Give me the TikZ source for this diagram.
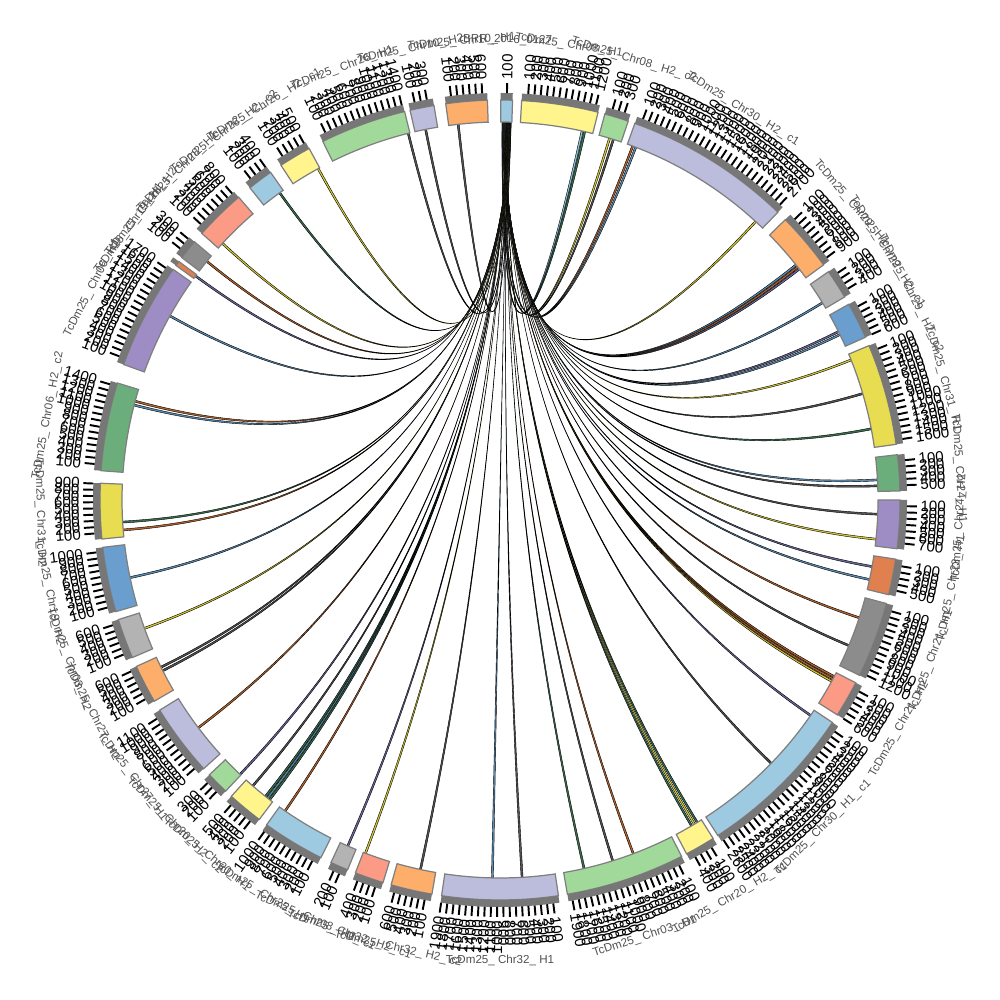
\documentclass[tikz,border=0pt]{standalone}
\usepackage{fontspec}
\setmainfont{Liberation Sans}
\definecolor{segblue}{HTML}{9ECAE1}
\definecolor{segyellow}{HTML}{FFF58C}
\definecolor{seggreen}{HTML}{A1D99B}
\definecolor{seglav}{HTML}{BCBDDC}
\definecolor{segorange}{HTML}{FDAE6B}
\definecolor{seggray}{HTML}{B3B3B3}
\definecolor{segsteel}{HTML}{6A9ECF}
\definecolor{segmustard}{HTML}{E8DC50}
\definecolor{segjade}{HTML}{6BAE7B}
\definecolor{segpurple}{HTML}{9E8DC4}
\definecolor{segrust}{HTML}{E0804E}
\definecolor{segdark}{HTML}{8C8C8C}
\definecolor{segsalmon}{HTML}{FB9A85}
\definecolor{bandgray}{HTML}{777777}
\definecolor{edgegray}{HTML}{7F7F7F}
\definecolor{namegray}{HTML}{505050}
\definecolor{lkO}{HTML}{D8CC3C}
\definecolor{lkB}{HTML}{B5652E}
\definecolor{lkS}{HTML}{5E8FB5}
\definecolor{lkG}{HTML}{3B7050}
\definecolor{lkP}{HTML}{6A6A9A}
\definecolor{lkK}{HTML}{555555}
\definecolor{lkC}{HTML}{8CC4E0}
\def\ringpart[#1](#2:#3:#4:#5){\path[#1] (#2:#4) arc[start angle=#2, end angle=#3, radius=#4] -- (#3:#5) arc[start angle=#3, end angle=#2, radius=#5] -- cycle;}
\tikzset{
  segbox/.style={draw=edgegray, line width=0.35pt},
  tickmark/.style={line width=0.55pt, black},
  ticklab/.style={inner sep=0pt, font=\fontsize{4.3}{4.3}\selectfont},
  chrlab/.style={inner sep=0pt, text=namegray, font=\fontsize{3.3}{3.3}\selectfont},
  linkline/.style={draw=black, line width=0.12pt},
}
\begin{document}
\begin{tikzpicture}
			%%%%% START %%%%%
			\useasboundingbox (-5,-5) rectangle (5,5);
			
			% links from the top sector
			\foreach \t/\c [count=\i] in {77.6/lkC, 77.2/lkG, 73.3/lkO, 72.7/lkK, 69.6/lkB, 69.1/lkS, 47.6/lkO,
				38.6/lkS, 38.2/lkB, 37.8/lkP, 31.6/lkS, 26.6/lkP, 26.1/lkS, 21.9/lkO, 16.5/lkK, 11.0/lkG,
				3.2/lkS, 2.3/lkK, -2.0/lkK, -5.8/lkO, -10.0/lkP, -12.0/lkS, -18.0/lkB, -22.5/lkK,
				-27.7/lkB, -28.1/lkB, -28.5/lkO, -34.6/lkP, -44.0/lkK, -58.4/lkG, -58.9/lkO, -59.4/lkG,
				-69.2/lkB, -72.5/lkK, -77.0/lkG, -86.5/lkK, -91.0/lkS, -102.0/lkK, -110.7/lkO, -113.6/lkP,
				-124.5/lkB, -127.4/lkG, -127.8/lkS, -128.2/lkG, -130.7/lkK, -133.3/lkP, -142.8/lkB,
				-153.0/lkK, -153.6/lkK, -160.0/lkO, -168.0/lkS, -175.3/lkB, -176.5/lkG, -194.4/lkS,
				-195.0/lkB, -209.0/lkS, -216.2/lkP, -219.0/lkB, -222.6/lkO, -234.2/lkG, -241.1/lkO,
				-255.8/lkK, -258.5/lkK, -263.5/lkK}{
				\pgfmathsetmacro\src{89.72-0.022*\i}
				\pgfmathsetmacro\srcb{\src-0.012}
				\pgfmathsetmacro\tb{\t-0.3}
				\draw[linkline, fill=\c] (\src:3.78) .. controls (\src:1.26) and (\t:1.26) .. (\t:3.78)
					arc[start angle=\t, end angle=\tb, radius=3.78]
					.. controls (\tb:1.26) and (\srcb:1.26) .. (\srcb:3.78) -- cycle;
			}
			
			% sectors, ticks and labels
			\foreach \s/\e/\c/\nm [count=\j] in {
				89.9/88.2/segblue/BRR\_2016\_0127,
				86.9/75.8/segyellow/TcDm25\_ Chr08\_ H1,
				74.8/71.3/seggreen/TcDm25\_ Chr08\_ H2\_ c2,
				70.3/46.0/seglav/TcDm25\_ Chr30\_ H2\_ c1,
				44.5/36.0/segorange/TcDm25\_ Chr29\_ H1,
				34.8/30.5/seggray/TcDm25\_ Chr29\_ H2\_ c1,
				29.3/24.0/segsteel/TcDm25\_ Chr29\_ H2\_ c2,
				22.7/8.0/segmustard/TcDm25\_ Chr31\_ H1,
				6.5/1.3/segjade/TcDm25\_ Chr24\_ H1,
				0.0/-7.0/segpurple/TcDm25\_ Chr24\_ H2,
				-8.5/-13.7/segrust/TcDm25\_ Chr23\_ H1,
				-15.0/-26.0/segdark/TcDm25\_ Chr21\_ H1,
				-27.2/-32.5/segsalmon/TcDm25\_ Chr21\_ H2,
				-33.8/-57.0/segblue/TcDm25\_ Chr30\_ H1\_ c1,
				-57.8/-62.2/segyellow/TcDm25\_ Chr20\_ H2\_ c1,
				-63.0/-80.3/seggreen/TcDm25\_ Chr03\_ H1,
				-81.6/-98.4/seglav/TcDm25\_ Chr32\_ H1,
				-99.8/-105.8/segorange/TcDm25\_ Chr32\_ H2\_ c2,
				-107.0/-111.2/segsalmon/TcDm25\_ Chr32\_ H2\_ c1,
				-112.4/-115.0/seggray/TcDm25\_ Chr08\_ H2\_ c1,
				-116.6/-125.7/segblue/TcDm25\_ Chr25\_ H1,
				-127.0/-132.2/segyellow/TcDm25\_ Chr20\_ H1,
				-133.3/-136.6/seggreen/TcDm25\_ Chr20\_ H2\_ c2,
				-137.8/-148.3/seglav/TcDm25\_ Chr27\_ H1,
				-149.8/-155.4/segorange/TcDm25\_ Chr27\_ H2,
				-156.8/-162.6/seggray/TcDm25\_ Chr03\_ H2,
				-163.8/-173.2/segsteel/TcDm25\_ Chr19\_ H2,
				-174.4/-182.4/segmustard/TcDm25\_ Chr31\_ H2,
				-184.2/-197.0/segjade/TcDm25\_ Chr06\_ H2\_ c2,
				-199.8/-215.2/segpurple/TcDm25\_ Chr06\_ H1,
				-215.9/-216.6/segrust/TcDm25\_ Chr19\_ H1,
				-217.3/-220.2/segdark/TcDm25\_ Chr28\_ H2,
				-221.8/-229.2/segsalmon/TcDm25\_ Chr28\_ H1,
				-231.3/-235.0/segblue/TcDm25\_ Chr26\_ H2\_ c2,
				-236.8/-241.5/segyellow/TcDm25\_ Chr26\_ H2\_ c1,
				-243.7/-256.2/seggreen/TcDm25\_ Chr26\_ H1,
				-257.0/-260.5/seglav/TcDm25\_ Chr10\_ H2,
				-262.2/-268.2/segorange/TcDm25\_ Chr10\_ H1}{
				\ringpart[segbox, fill=\c](\s:\e:3.78:4.00)
				\ringpart[fill=bandgray](\s:\e:4.00:4.07)
				\pgfmathtruncatemacro\nt{(\s-\e)/0.88}
				\ifnum\nt>0
				\foreach \k in {1,...,\nt}{
					\pgfmathsetmacro\ang{\s-0.88*\k}
					\pgfmathtruncatemacro\lab{100*\k}
					\pgfmathsetmacro\an{mod(\ang+540,360)-180}
					\pgfmathtruncatemacro\flip{(\an>90)||(\an<-90)}
					\ifnum\flip=1 \def\rot{\an+180}\def\anc{east}\else\def\rot{\an}\def\anc{west}\fi
					\draw[tickmark] (\ang:4.07) -- (\ang:4.17);
					\node[ticklab, rotate=\rot, anchor=\anc] (lab\j-\k) at (\ang:4.20) {\lab};
				}
				\fi
				\pgfmathsetmacro\m{mod((\s+\e)/2+540,360)-180}
				\pgfmathtruncatemacro\isup{\m>0}
				\ifnum\isup=1 \def\nrot{\m-90}\else\def\nrot{\m+90}\fi
				\node[chrlab, rotate=\nrot] (chr\j) at (\m:4.60) {\nm};
			}
			
			%%%%% END %%%%%
\end{tikzpicture}
\end{document}
